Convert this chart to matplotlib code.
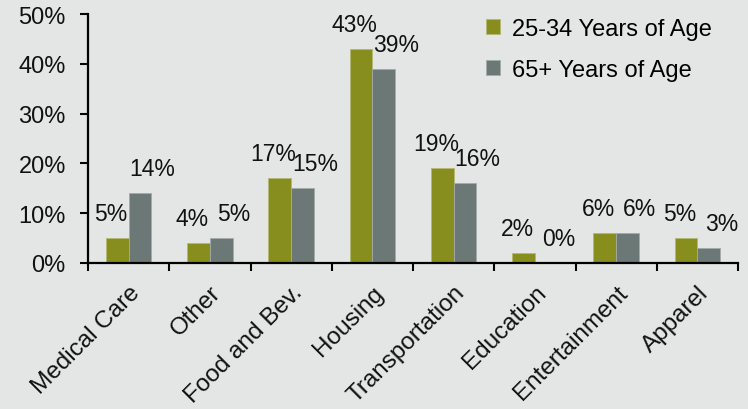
import matplotlib
matplotlib.use('Agg')
import matplotlib.pyplot as plt
import numpy as np

# spending share by category, two age groups
categories = ['Medical Care', 'Other', 'Food and Bev.', 'Housing',
              'Transportation', 'Education', 'Entertainment', 'Apparel']
young = [5, 4, 17, 43, 19, 2, 6, 5]
senior = [14, 5, 15, 39, 16, 0, 6, 3]
series_names = ['25-34 Years of Age', '65+ Years of Age']
y_ticks = [0, 10, 20, 30, 40, 50]

bg = '#e4e6e5'
olive = '#878e1e'
grey = '#6c7876'
ink = '#111111'

plt.rcParams['font.family'] = ['Liberation Sans', 'DejaVu Sans']

fig = plt.figure(figsize=(7.48, 4.10), dpi=100, facecolor=bg)
ax = fig.add_axes([88 / 748, 1 - 264 / 410, 650 / 748, 249 / 410])
ax.set_facecolor(bg)

x = np.arange(len(categories))
w = 0.28
ax.bar(x - w / 2, young, w, color=olive, edgecolor='#b3b874',
       linewidth=0.6, label=series_names[0], zorder=2)
ax.bar(x + w / 2, senior, w, color=grey, edgecolor='#a3aba9',
       linewidth=0.6, label=series_names[1], zorder=2)

# value labels, nudged apart like the original layout
for xi, v in zip(x, young):
    ax.annotate(f'{v}%', (xi - w / 2, v), xytext=(-4.5, 13),
                textcoords='offset points', ha='center', va='baseline',
                fontsize=16.5, color=ink)
for xi, v in zip(x, senior):
    ax.annotate(f'{v}%', (xi + w / 2, v), xytext=(9, 13),
                textcoords='offset points', ha='center', va='baseline',
                fontsize=16.5, color=ink)

ax.set_xlim(-0.5, len(categories) - 0.5)
ax.set_ylim(0, 50)
ax.set_yticks(y_ticks)
ax.set_yticklabels([f'{t}%' for t in y_ticks], fontsize=17, color=ink)
ax.tick_params(axis='y', length=6, width=1.5, pad=10)

# boundary ticks on the x axis, category names at the centres
ax.set_xticks(np.arange(len(categories) + 1) - 0.5)
ax.set_xticklabels([])
ax.tick_params(axis='x', which='major', length=6, width=1.5)
ax.set_xticks(x, minor=True)
ax.set_xticklabels(categories, minor=True, rotation=45, ha='right',
                   va='top', rotation_mode='anchor', fontsize=17.5,
                   color=ink)
ax.tick_params(axis='x', which='minor', length=0, pad=13)

for s in ['top', 'right']:
    ax.spines[s].set_visible(False)
for s in ['left', 'bottom']:
    ax.spines[s].set_linewidth(1.6)
    ax.spines[s].set_color('black')

ax.legend(loc='upper left', bbox_to_anchor=(0.58, 1.07), frameon=False,
          fontsize=17, handlelength=0.6, handleheight=0.6,
          handletextpad=0.5, labelspacing=0.8)

plt.savefig('out.png', dpi=100, facecolor=bg)
plt.close()
